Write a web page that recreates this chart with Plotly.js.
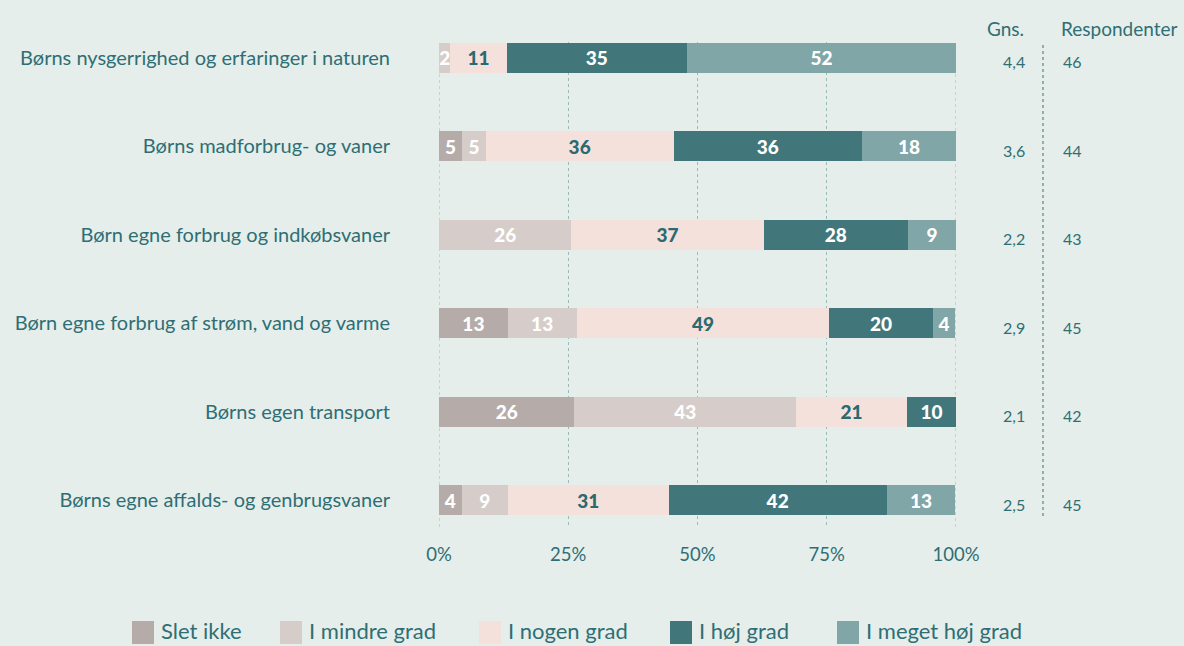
<!DOCTYPE html>
<html>
<head>
<meta charset="utf-8">
<script src="https://cdn.plot.ly/plotly-3.0.1.min.js"></script>
<style>html,body{margin:0;padding:0;background:#e5eeeb;}#chart{width:1184px;height:646px;}</style>
</head>
<body>
<div id="chart"></div>
<script>
const categories = [
  "Børns nysgerrighed og erfaringer i naturen",
  "Børns madforbrug- og vaner",
  "Børn egne forbrug og indkøbsvaner",
  "Børn egne forbrug af strøm, vand og varme",
  "Børns egen transport",
  "Børns egne affalds- og genbrugsvaner"
];
const seriesNames = ["Slet ikke", "I mindre grad", "I nogen grad", "I høj grad", "I meget høj grad"];
const sletIkke     = [0,   4.5, 0,    13.3, 26.2, 4.4];
const mindreGrad   = [2.2, 4.5, 25.6, 13.3, 42.9, 8.9];
const nogenGrad    = [10.9,36.4,37.2, 48.9, 21.4, 31.1];
const hojGrad      = [34.8,36.4,27.9, 20.0, 9.5,  42.2];
const megetHojGrad = [52.2,18.2, 9.3, 4.4,  0,    13.3];
const gns = ["4,4", "3,6", "2,2", "2,9", "2,1", "2,5"];
const respondenter = ["46", "44", "43", "45", "42", "45"];
const xTickVals = [0, 25, 50, 75, 100];
const xTickText = ["0%", "25%", "50%", "75%", "100%"];

const colors = ["#b5acaa", "#d6cdca", "#f5e1dc", "#41777b", "#81a6a8"];
const textColors = ["#ffffff", "#ffffff", "#2a6a70", "#ffffff", "#ffffff"];
const seriesValues = [sletIkke, mindreGrad, nogenGrad, hojGrad, megetHojGrad];
const textCol = "#2f6e74";
const labelFont = "Lato, 'Open Sans', sans-serif";
const gridCol = "#9dbab7";

const traces = seriesValues.map((vals, i) => ({
  type: "bar",
  orientation: "h",
  name: seriesNames[i],
  y: categories,
  x: vals,
  width: 0.34,
  marker: {color: colors[i], line: {width: 0}},
  text: vals.map(v => v > 0 ? String(Math.round(v)) : ""),
  textposition: "inside",
  insidetextanchor: "middle",
  constraintext: "none",
  textangle: 0,
  textfont: {family: labelFont, size: 19, weight: 900, color: textColors[i]},
  hoverinfo: "skip",
  showlegend: false
}));

const annotations = [];
const shapes = [];
// edge gridlines (0% and 100%)
[0, 100].forEach(v => {
  shapes.push({type: "line", xref: "x", yref: "paper", x0: v, x1: v, y0: 0, y1: 1, layer: "below", line: {color: gridCol, width: 1, dash: "dot"}});
});
// column headers
annotations.push({xref: "paper", yref: "paper", x: (1026 - 439) / 517, y: (527 - 28) / 485, xanchor: "right", yanchor: "middle", text: "Gns.", showarrow: false, font: {family: labelFont, size: 19, color: textCol}});
annotations.push({xref: "paper", yref: "paper", x: (1059 - 439) / 517, y: (527 - 28) / 485, xanchor: "left", yanchor: "middle", text: "Respondenter", showarrow: false, font: {family: labelFont, size: 19, color: textCol}});
categories.forEach((c, i) => {
  annotations.push({xref: "paper", yref: "y", x: (1027 - 439) / 517, y: c, yshift: -4, xanchor: "right", yanchor: "middle", text: gns[i], showarrow: false, font: {family: labelFont, size: 16, color: textCol}});
  annotations.push({xref: "paper", yref: "y", x: (1061 - 439) / 517, y: c, yshift: -4, xanchor: "left", yanchor: "middle", text: respondenter[i], showarrow: false, font: {family: labelFont, size: 16, color: textCol}});
});
// separator
shapes.push({type: "line", xref: "paper", yref: "paper", x0: (1043 - 439) / 517, x1: (1043 - 439) / 517, y0: (527 - 45) / 485, y1: (527 - 516) / 485, line: {color: "#5b8488", width: 1.2, dash: "dot"}});
// manual legend
const legendX = [132, 280, 479, 670, 837];
seriesNames.forEach((n, i) => {
  const x0 = legendX[i];
  shapes.push({type: "rect", xref: "paper", yref: "paper", x0: (x0 - 439) / 517, x1: (x0 + 22 - 439) / 517, y0: (527 - 621) / 485, y1: (527 - 644) / 485, fillcolor: colors[i], line: {width: 0}});
  annotations.push({xref: "paper", yref: "paper", x: (x0 + 27 - 439) / 517, y: (527 - 630) / 485, xanchor: "left", yanchor: "middle", text: n, showarrow: false, font: {family: labelFont, size: 22, color: textCol}});
});

const layout = {
  width: 1184, height: 646,
  paper_bgcolor: "#e5eeeb", plot_bgcolor: "#e5eeeb",
  margin: {l: 439, r: 228, t: 42, b: 119},
  barmode: "stack",
  showlegend: false,
  xaxis: {
    range: [0, 100], tickvals: xTickVals, ticktext: xTickText,
    showgrid: true, gridcolor: gridCol, griddash: "dot", gridwidth: 1,
    zeroline: false, showline: false, ticks: "", ticklabelstandoff: 14,
    tickfont: {family: labelFont, size: 18.5, color: textCol}, fixedrange: true
  },
  yaxis: {
    autorange: false, range: [5.3, -0.18], type: "category",
    showgrid: false, zeroline: false, showline: false, ticks: "",
    ticklabelstandoff: 48,
    tickfont: {family: labelFont, size: 20, color: textCol}, fixedrange: true
  },
  annotations: annotations,
  shapes: shapes
};

Plotly.newPlot("chart", traces, layout, {displayModeBar: false, staticPlot: true});
</script>
</body>
</html>
